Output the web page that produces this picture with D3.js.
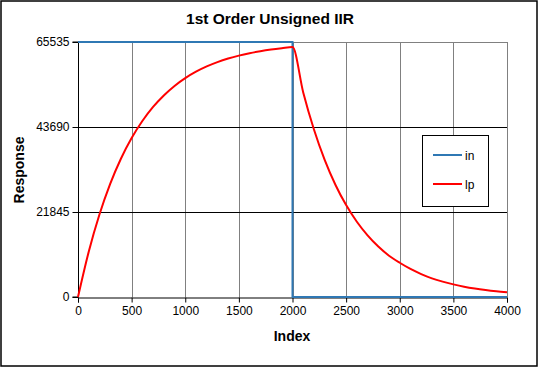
<!DOCTYPE html>
<html>
<head>
<meta charset="utf-8">
<script src="https://cdn.jsdelivr.net/npm/d3@7/dist/d3.min.js"></script>
<style>
html,body{margin:0;padding:0;background:#fff;}
svg{display:block;font-family:"Liberation Sans",Arial,sans-serif;}
</style>
</head>
<body>
<svg id="chart" width="538" height="367"></svg>
<script>
// ---- data ----
const title = "1st Order Unsigned IIR";
const xLabel = "Index";
const yLabel = "Response";
const xTicks = [0, 500, 1000, 1500, 2000, 2500, 3000, 3500, 4000];
const yTicks = [0, 21845, 43690, 65535];
const seriesNames = ["in", "lp"];
const seriesColors = ["#2f78b4", "#ff0000"];
// input step
const inIndex = [0, 2000, 2000, 4000];
const inValues = [65535, 65535, 0, 0];
// low-pass output, read every 100 samples
const lpIndex = [0,100,200,300,400,500,600,700,800,900,1000,1100,1200,1300,1400,1500,1600,1700,1800,1900,2000,
  2100,2200,2300,2400,2500,2600,2700,2800,2900,3000,3100,3200,3300,3400,3500,3600,3700,3800,3900,4000];
const lpValues = [0,11630,21190,29060,35530,40850,45230,48840,51800,54240,56240,57890,59250,60360,61280,62040,62660,63170,63590,63930,64220,
  52580,43050,35240,28860,23620,19340,15840,12970,10620,8800,7200,5900,4800,3950,3250,2650,2170,1780,1460,1200];

// ---- layout ----
const svg = d3.select("#chart");
const W = 538, H = 367;
const m = {left: 78, right: 31, top: 42, bottom: 70};
const x = d3.scaleLinear().domain([0, 4000]).range([m.left, W - m.right]);
const y = d3.scaleLinear().domain([0, 65535]).range([H - m.bottom, m.top]);

svg.append("rect").attr("x", 1).attr("y", 1).attr("width", W - 2).attr("height", H - 2)
  .attr("fill", "#fff").attr("stroke", "#000").attr("stroke-width", 1.5);

// grid: vertical grey
svg.append("g").selectAll("line").data(xTicks.slice(1)).join("line")
  .attr("x1", d => Math.round(x(d)) + 0.5).attr("x2", d => Math.round(x(d)) + 0.5)
  .attr("y1", y(65535)).attr("y2", y(0))
  .attr("stroke", "#808080").attr("stroke-width", 1);
// top border grey
svg.append("line").attr("x1", x(0)).attr("x2", x(4000))
  .attr("y1", Math.round(y(65535)) + 0.5).attr("y2", Math.round(y(65535)) + 0.5)
  .attr("stroke", "#808080");
// horizontal black grid
svg.append("g").selectAll("line").data(yTicks.slice(1, 3)).join("line")
  .attr("x1", x(0)).attr("x2", x(4000))
  .attr("y1", d => Math.round(y(d)) + 0.5).attr("y2", d => Math.round(y(d)) + 0.5)
  .attr("stroke", "#000").attr("stroke-width", 1);

// axes
const yAxis = d3.axisLeft(y).tickValues(yTicks).tickSize(6).tickPadding(3).tickFormat(d3.format("d"));
const xAxis = d3.axisBottom(x).tickValues(xTicks).tickSize(5).tickPadding(4).tickFormat(d3.format("d"));
const gy = svg.append("g").attr("transform", `translate(${Math.round(x(0)) + 0.5},0)`).call(yAxis);
const gx = svg.append("g").attr("transform", `translate(0,${Math.round(y(0)) + 0.5})`).call(xAxis);
[gx, gy].forEach(g => {
  g.select(".domain").attr("stroke", "#000").attr("stroke-width", 1);
  g.selectAll(".tick line").attr("stroke", "#000");
  g.selectAll(".tick text").attr("font-size", 12).attr("fill", "#000")
    .attr("font-family", "'Liberation Sans',Arial,sans-serif");
});
gy.select(".domain").attr("d", `M-6,${y(65535)}H0V${y(0)}H-6`);

// series
const line = d3.line().x(d => x(d[0])).y(d => y(d[1]));
svg.append("path").datum(inIndex.map((d, i) => [d, inValues[i]]))
  .attr("d", line).attr("fill", "none").attr("stroke", seriesColors[0]).attr("stroke-width", 2);
svg.append("path").datum(lpIndex.map((d, i) => [d, lpValues[i]]))
  .attr("d", d3.line().x(d => x(d[0])).y(d => y(d[1])).curve(d3.curveMonotoneX))
  .attr("fill", "none").attr("stroke", seriesColors[1]).attr("stroke-width", 2);

// titles
svg.append("text").attr("x", 270).attr("y", 24).attr("text-anchor", "middle")
  .attr("font-size", 15.5).attr("font-weight", "bold").text(title);
svg.append("text").attr("x", 292).attr("y", 341).attr("text-anchor", "middle")
  .attr("font-size", 14).attr("font-weight", "bold").text(xLabel);
svg.append("text").attr("transform", "translate(24,170) rotate(-90)").attr("text-anchor", "middle")
  .attr("font-size", 14).attr("font-weight", "bold").text(yLabel);

// legend
const lg = svg.append("g");
lg.append("rect").attr("x", 422.5).attr("y", 135.5).attr("width", 66).attr("height", 71)
  .attr("fill", "#fff").attr("stroke", "#000").attr("stroke-width", 1);
seriesNames.forEach((n, i) => {
  const yy = 155 + i * 29;
  lg.append("line").attr("x1", 433).attr("x2", 462).attr("y1", yy).attr("y2", yy)
    .attr("stroke", seriesColors[i]).attr("stroke-width", 2);
  lg.append("text").attr("x", 465).attr("y", yy + 4.5).attr("font-size", 12).text(n);
});
</script>
</body>
</html>
